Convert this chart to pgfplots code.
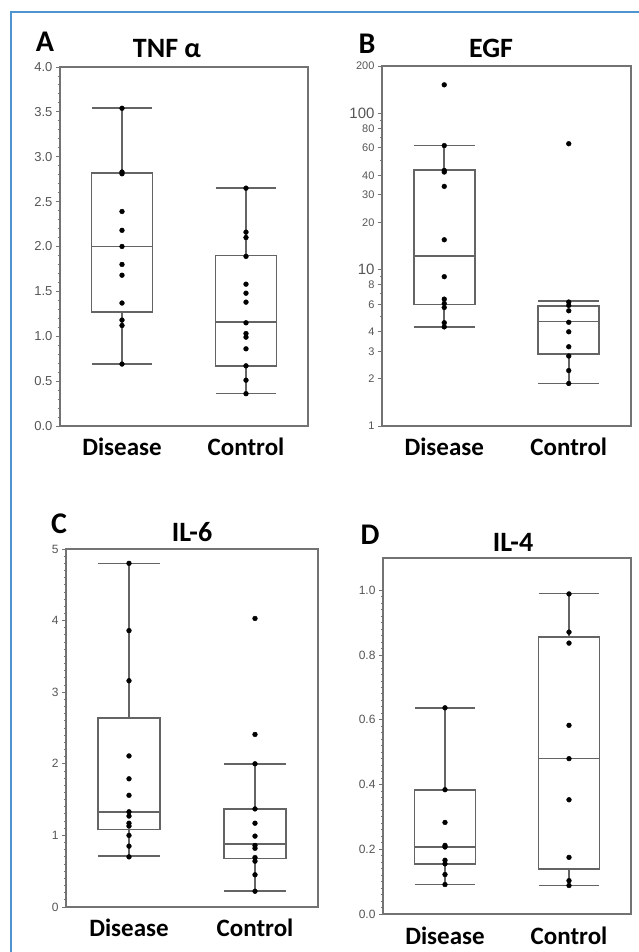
\documentclass[border=0pt]{standalone}
\usepackage{fontspec}
\setmainfont{Carlito}
\newfontfamily\tickfont{Liberation Sans}
\usepackage{pgfplots}
\pgfplotsset{compat=1.18}
\usepgfplotslibrary{statistics}
\definecolor{FrameBlue}{RGB}{78,148,208}
\definecolor{BoxGray}{RGB}{100,100,100}
\definecolor{AxisGray}{RGB}{115,115,115}
\definecolor{TickText}{RGB}{85,85,85}
\pgfplotsset{
  panel/.style={
    scale only axis, anchor=south west, clip=false,
    xmin=0.5, xmax=2.5, xtick={1,2}, xticklabels={Disease,Control},
    axis line style={AxisGray, line width=1.5pt},
    tick align=outside, ytick pos=left, xtick pos=bottom,
    major tick length=4pt, minor tick length=2.2pt,
    xtick style={draw=none},
    ytick style={AxisGray, line width=0.9pt},
    xticklabel style={font=\fontsize{25}{25}\selectfont\bfseries, anchor=base, yshift=-26pt},
    yticklabel style={font=\tickfont\fontsize{13}{13}\selectfont, text=TickText},
  },
  boxst/.style={draw=BoxGray, line width=1.6pt, solid, fill=none, mark=none},
  dots/.style={only marks, mark=*, mark size=2.4pt, black},
  boxplot/draw direction=y,
  boxplot/box extend=0.49, boxplot/whisker extend=0.49,
}
\newcommand{\ptitle}[3]{\node[inner sep=0pt, font=\fontsize{28}{28}\selectfont\bfseries] at (#1pt,#2pt) {#3};}
\newcommand{\pletter}[3]{\node[inner sep=0pt, font=\fontsize{30}{30}\selectfont\bfseries] at (#1pt,#2pt) {#3};}

\begin{document}
\begin{tikzpicture}
\useasboundingbox (0pt,0pt) rectangle (639pt,952pt);
\draw[FrameBlue, line width=2pt] (11pt,-2pt) -- (11pt,940pt) -- (642pt,940pt);

% A: TNF alpha
\begin{axis}[panel, at={(60pt,526pt)}, width=248pt, height=359pt,
    ymin=0, ymax=4, ytick={0,0.5,...,4}, minor tick num=4,
    yticklabels={0.0,0.5,1.0,1.5,2.0,2.5,3.0,3.5,4.0}]
\addplot[boxst, boxplot prepared={lower whisker=0.69, lower quartile=1.27, median=2.00,
    upper quartile=2.82, upper whisker=3.54, draw position=1}] coordinates {};
\addplot[boxst, boxplot prepared={lower whisker=0.36, lower quartile=0.67, median=1.16,
    upper quartile=1.90, upper whisker=2.65, draw position=2}] coordinates {};
\addplot[dots] coordinates {(1,3.54) (1,2.83) (1,2.81) (1,2.39) (1,2.18) (1,2.00) (1,1.80)
    (1,1.68) (1,1.37) (1,1.18) (1,1.12) (1,0.69)};
\addplot[dots] coordinates {(2,2.65) (2,2.16) (2,2.10) (2,1.89) (2,1.58) (2,1.48) (2,1.38)
    (2,1.15) (2,1.03) (2,0.99) (2,0.86) (2,0.67) (2,0.51) (2,0.36)};
\end{axis}

% B: EGF (log)
\begin{axis}[panel, at={(382pt,526pt)}, width=249pt, height=360pt,
    ymode=log, ymin=1, ymax=200,
    ytick={1,2,3,4,6,8,10,20,30,40,60,80,100,200},
    minor ytick={5,7,9,50,70,90},
    yticklabels={1,2,3,4,6,8,{\fontsize{15}{15}\selectfont 10},20,30,40,60,80,{\fontsize{15}{15}\selectfont 100},200},
    yticklabel style={font=\tickfont\fontsize{11}{11}\selectfont}]
\addplot[boxst, boxplot prepared={lower whisker=4.28, lower quartile=5.98, median=12.2,
    upper quartile=43.1, upper whisker=62.2, draw position=1}] coordinates {};
\addplot[boxst, boxplot prepared={lower whisker=1.87, lower quartile=2.88, median=4.66,
    upper quartile=5.83, upper whisker=6.28, draw position=2}] coordinates {};
\addplot[dots] coordinates {(1,151.6) (1,62) (1,43) (1,42) (1,34) (1,15.5) (1,9.0)
    (1,6.47) (1,6.07) (1,5.72) (1,4.57) (1,4.30)};
\addplot[dots] coordinates {(2,63.7) (2,6.2) (2,5.9) (2,5.45) (2,4.6) (2,4.0) (2,3.21)
    (2,2.80) (2,2.26) (2,1.87)};
\end{axis}

% C: IL-6
\begin{axis}[panel, at={(66pt,45pt)}, width=252pt, height=358pt,
    ymin=0, ymax=5, ytick={0,1,2,3,4,5}, minor tick num=9,
    yticklabels={0,1,2,3,4,5},
    yticklabel style={font=\tickfont\fontsize{12}{12}\selectfont}]
\addplot[boxst, boxplot prepared={lower whisker=0.71, lower quartile=1.08, median=1.33,
    upper quartile=2.64, upper whisker=4.80, draw position=1}] coordinates {};
\addplot[boxst, boxplot prepared={lower whisker=0.22, lower quartile=0.68, median=0.88,
    upper quartile=1.37, upper whisker=2.00, draw position=2}] coordinates {};
\addplot[dots] coordinates {(1,4.80) (1,3.86) (1,3.16) (1,2.11) (1,1.79) (1,1.56) (1,1.33)
    (1,1.27) (1,1.17) (1,1.13) (1,1.00) (1,0.85) (1,0.70)};
\addplot[dots] coordinates {(2,4.03) (2,2.41) (2,2.00) (2,1.37) (2,1.17) (2,0.99) (2,0.86)
    (2,0.82) (2,0.69) (2,0.64) (2,0.45) (2,0.22)};
\end{axis}

% D: IL-4
\begin{axis}[panel, at={(383pt,38pt)}, width=248pt, height=356pt,
    ymin=0, ymax=1.1, ytick={0,0.2,0.4,0.6,0.8,1.0}, minor tick num=9,
    yticklabels={0.0,0.2,0.4,0.6,0.8,1.0},
    yticklabel style={font=\tickfont\fontsize{12}{12}\selectfont}]
\addplot[boxst, boxplot prepared={lower whisker=0.091, lower quartile=0.154, median=0.207,
    upper quartile=0.384, upper whisker=0.637, draw position=1}] coordinates {};
\addplot[boxst, boxplot prepared={lower whisker=0.088, lower quartile=0.139, median=0.481,
    upper quartile=0.855, upper whisker=0.99, draw position=2}] coordinates {};
\addplot[dots] coordinates {(1,0.637) (1,0.384) (1,0.283) (1,0.212) (1,0.207) (1,0.166)
    (1,0.155) (1,0.122) (1,0.091)};
\addplot[dots] coordinates {(2,0.989) (2,0.871) (2,0.837) (2,0.583) (2,0.480) (2,0.353)
    (2,0.175) (2,0.103) (2,0.088)};
\end{axis}

\pletter{45}{910}{A}
\ptitle{167}{903}{TNF α}
\pletter{367}{908}{B}
\ptitle{491}{904}{EGF}
\pletter{59}{428}{C}
\ptitle{192}{420}{IL-6}
\pletter{370}{417}{D}
\ptitle{513}{410}{IL-4}
\end{tikzpicture}
\end{document}
